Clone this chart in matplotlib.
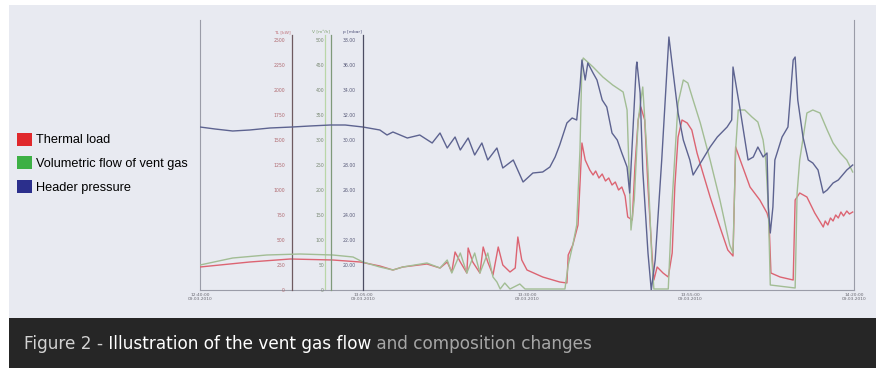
import matplotlib
matplotlib.use('Agg')
import matplotlib.pyplot as plt
from matplotlib.patches import Patch, Rectangle
from matplotlib import font_manager

# --- data (time in minutes from start of window) ---
red_t = [0.0, 7.6, 13.8, 20.3, 24.5, 27.5, 29.5, 31.0, 34.7, 36.7, 37.8, 38.5, 39.0, 39.8,
         40.8, 41.0, 41.7, 42.8, 43.3, 44.0, 44.8, 45.6, 46.3, 47.4, 48.2, 48.6, 49.2, 50.0,
         52.4, 55.0, 56.1, 56.3, 57.0, 57.8, 58.4, 58.9, 59.6, 60.1, 60.5, 61.0, 61.5, 62.0,
         62.5, 63.0, 63.5, 64.0, 64.5, 65.0, 65.4, 66.1, 66.5, 67.0, 67.4, 68.0, 68.5, 69.1,
         69.4, 69.9, 70.8, 71.6, 72.2, 72.6, 73.1, 73.7, 74.5, 75.2, 76.0, 76.9, 78.0, 79.5,
         80.7, 81.5, 81.9, 82.6, 84.1, 85.6, 86.7, 87.0, 87.3, 88.7, 90.7, 91.0, 91.7, 92.8,
         94.0, 95.3, 95.6, 96.0, 96.4, 96.8, 97.2, 97.6, 98.0, 98.4, 98.9, 99.3, 99.8]
red_v = [230, 280, 310, 300, 280, 240, 200, 230, 260, 220, 280, 180, 380, 280,
         170, 420, 280, 170, 430, 280, 150, 430, 250, 180, 220, 530, 300, 200,
         130, 80, 70, 350, 450, 650, 1470, 1300, 1200, 1150, 1190, 1120, 1160, 1090,
         1120, 1050, 1080, 1000, 1030, 940, 730, 700, 1230, 1700, 1830, 1700, 1030, 370,
         100, 230, 170, 130, 370, 1030, 1530, 1700, 1670, 1600, 1370, 1170, 930, 630,
         400, 340, 1430, 1300, 1030, 900, 770, 700, 170, 130, 100, 900, 970, 930,
         770, 630, 690, 650, 720, 690, 750, 720, 780, 740, 790, 760, 780]

green_t = [0.0, 5.0, 10.2, 15.3, 20.3, 23.4, 24.9, 27.5, 29.5, 31.0, 34.7, 36.7, 37.8, 38.5,
           39.8, 40.8, 42.0, 42.8, 44.0, 44.8, 45.4, 45.9, 46.6, 47.4, 48.9, 49.7, 55.8, 56.3,
           57.0, 57.6, 58.1, 58.4, 58.6, 60.1, 61.6, 63.1, 64.7, 65.3, 65.9, 66.4, 67.0, 67.7,
           68.5, 69.1, 69.4, 71.6, 72.2, 73.1, 73.9, 74.6, 75.4, 76.5, 78.0, 79.5, 81.0, 81.5,
           81.9, 82.3, 83.3, 84.4, 85.3, 86.1, 86.5, 86.9, 87.2, 91.0, 91.3, 91.7, 92.8, 93.7,
           94.8, 95.9, 96.8, 97.9, 98.9, 99.8]
green_v = [50, 64, 70, 72, 70, 66, 56, 46, 40, 46, 54, 44, 60, 34,
           74, 34, 74, 34, 74, 26, 16, 2, 14, 2, 12, 2, 2, 50,
           90, 130, 280, 454, 464, 446, 426, 410, 396, 360, 120, 180, 340, 406,
           240, 60, 2, 2, 180, 374, 420, 414, 380, 334, 260, 180, 90, 74,
           280, 360, 360, 346, 336, 300, 260, 166, 10, 4, 194, 260, 354, 360,
           354, 320, 294, 274, 260, 236]

blue_t = [0.0, 2.3, 5.0, 7.6, 10.7, 14.1, 16.8, 19.9, 22.2, 24.9, 27.5, 28.6, 29.5, 31.7,
          33.6, 35.5, 36.7, 37.8, 39.0, 39.8, 41.0, 42.0, 43.1, 44.0, 45.4, 46.3, 47.9, 49.4,
          50.9, 52.4, 53.5, 54.3, 55.0, 56.1, 56.9, 57.6, 58.1, 58.4, 58.9, 59.3, 60.1, 60.7,
          61.5, 62.2, 63.0, 63.8, 64.5, 65.3, 65.7, 66.2, 66.7, 66.8, 67.3, 67.7, 68.5, 69.0,
          69.6, 70.6, 71.4, 71.7, 72.3, 73.1, 73.9, 74.9, 75.4, 76.8, 78.0, 79.1, 80.6, 81.3,
          81.5, 82.6, 83.8, 84.6, 85.3, 86.1, 86.7, 86.9, 87.2, 87.6, 87.9, 89.0, 89.9, 90.7,
          91.0, 91.4, 92.2, 93.0, 93.7, 94.5, 95.3, 95.9, 96.8, 97.6, 98.9, 99.8]
blue_v = [31.04, 30.88, 30.72, 30.80, 30.96, 31.04, 31.12, 31.20, 31.20, 31.04, 30.80, 30.40, 30.64, 30.16,
          30.40, 29.76, 30.56, 29.36, 30.24, 29.20, 30.16, 28.80, 29.76, 28.40, 29.36, 27.76, 28.40, 26.64,
          27.36, 27.44, 27.84, 28.64, 29.60, 31.36, 31.76, 31.60, 34.24, 36.40, 34.80, 36.16, 35.36, 34.80,
          33.20, 32.64, 30.56, 30.00, 28.96, 27.84, 25.76, 30.80, 35.84, 36.24, 33.76, 27.60, 20.96, 18.00,
          20.40, 28.40, 35.60, 38.24, 35.60, 32.16, 30.00, 28.40, 27.20, 28.40, 29.44, 30.24, 31.04, 31.60,
          35.84, 32.40, 28.40, 28.64, 29.44, 28.64, 28.96, 24.64, 22.56, 24.64, 28.40, 30.24, 31.04, 36.40,
          36.64, 33.20, 30.24, 28.40, 28.16, 27.60, 25.76, 26.00, 26.56, 26.80, 27.60, 28.00]

x_ticks = [0, 25, 50, 75, 100]
x_labels = ['12:40:00\n09.03.2010', '13:05:00\n09.03.2010', '13:30:00\n09.03.2010',
            '13:55:00\n09.03.2010', '14:20:00\n09.03.2010']
red_ticks = list(range(0, 2501, 250))
green_ticks = list(range(0, 501, 50))
blue_ticks = [20, 22, 24, 26, 28, 30, 32, 34, 36, 38]
legend_labels = ['Thermal load', 'Volumetric flow of vent gas', 'Header pressure']

W, H = 876, 369
installed = {f.name for f in font_manager.fontManager.ttflist}
narrow = 'Liberation Sans Narrow' if 'Liberation Sans Narrow' in installed else 'Liberation Sans'

fig = plt.figure(figsize=(W / 100, H / 100), dpi=100, facecolor='white')

# panel background + caption bar (behind the axes)
fig.patches.append(Rectangle((9 / W, 1 - 318 / H), 1, 313 / H, transform=fig.transFigure,
                             facecolor='#e8eaf1', edgecolor='none', zorder=-5))
fig.patches.append(Rectangle((9 / W, 1 - 368 / H), 1, 50 / H, transform=fig.transFigure,
                             facecolor='#262626', edgecolor='none', zorder=-5))

ax = fig.add_axes([200 / W, 1 - 290 / H, 654 / W, 270 / H])
ax.patch.set_alpha(0)
ax.set_xlim(0, 100)
ax.set_yticks([])
ax.spines['top'].set_visible(False)
for s in ['left', 'right', 'bottom']:
    ax.spines[s].set_color('#9a9ca8')
    ax.spines[s].set_linewidth(0.8)
ax.set_xticks(x_ticks)
ax.set_xticklabels(x_labels, fontsize=3.2, color='#6a6a72', linespacing=1.1)
ax.tick_params(axis='x', length=0, pad=2)
# cursor line next to the flow scale
ax.axvline(19.1, ymin=0, ymax=255 / 270, color='#b9d6a8', lw=0.9)


def side_axis(frac, lim, ticks, fmt, spine_col, lab_col, top):
    a = ax.twinx()
    a.patch.set_alpha(0)
    for s in ['top', 'right', 'bottom']:
        a.spines[s].set_visible(False)
    a.spines['left'].set_visible(True)
    a.spines['left'].set_position(('axes', frac))
    a.spines['left'].set_color(spine_col)
    a.spines['left'].set_linewidth(0.9)
    a.spines['left'].set_bounds(lim[0], top)
    a.yaxis.set_ticks_position('left')
    a.yaxis.set_label_position('left')
    a.set_ylim(*lim)
    a.set_yticks(ticks)
    a.set_yticklabels([fmt.format(t) for t in ticks], fontsize=3.3, color=lab_col)
    a.tick_params(axis='y', length=0, pad=5)
    return a


ax_r = side_axis(92 / 654, (0, 2700), red_ticks, '{:d}', '#6e5a60', '#b06a70', 2550)
ax_g = side_axis(131 / 654, (0, 540), green_ticks, '{:d}', '#7f9a7a', '#7a8a74', 510)
ax_b = side_axis(163 / 654, (18, 39.6), blue_ticks, '{:.2f}', '#4c4d62', '#5a5c7a', 38.4)

ax_r.plot(red_t, red_v, color='#dc6472', lw=1.0)
ax_g.plot(green_t, green_v, color='#a2bd94', lw=1.0)
ax_b.plot(blue_t, blue_v, color='#5d6390', lw=1.0)

# small scale titles above each scale
for frac, txt, col in [(92 / 654, 'TL [kW]', '#c07078'), (131 / 654, 'V [m³/h]', '#7ea070'),
                       (163 / 654, 'p [mbar]', '#50527a')]:
    ax.text(frac - 0.002, (290 - 32) / 270, txt, transform=ax.transAxes, ha='right',
            va='center', fontsize=3.2, color=col)

handles = [Patch(facecolor='#e0282c', edgecolor='none'),
           Patch(facecolor='#3db045', edgecolor='none'),
           Patch(facecolor='#2b2f8c', edgecolor='none')]
fig.legend(handles, legend_labels, loc='upper left', bbox_to_anchor=(17 / W, 1 - 132.5 / H),
           frameon=False, prop={'family': narrow, 'size': 9.2}, handlelength=1.2,
           handleheight=1.2, handletextpad=0.3, labelspacing=0.78, borderpad=0,
           borderaxespad=0)

# caption with three tones
t1 = fig.text(24 / W, 1 - 353 / H, 'Figure 2 -', color='#d2d2d2', fontsize=12.2, va='bottom')
t2 = fig.add_artist(matplotlib.text.Annotation(
    ' Illustration of the vent gas flow', xy=(1, 0), xycoords=t1, va='bottom', ha='left',
    color='#ffffff', fontsize=12.2))
fig.add_artist(matplotlib.text.Annotation(
    ' and composition changes', xy=(1, 0), xycoords=t2, va='bottom', ha='left',
    color='#a6a6a6', fontsize=12.2))

fig.savefig('out.png', dpi=100, facecolor='white')
